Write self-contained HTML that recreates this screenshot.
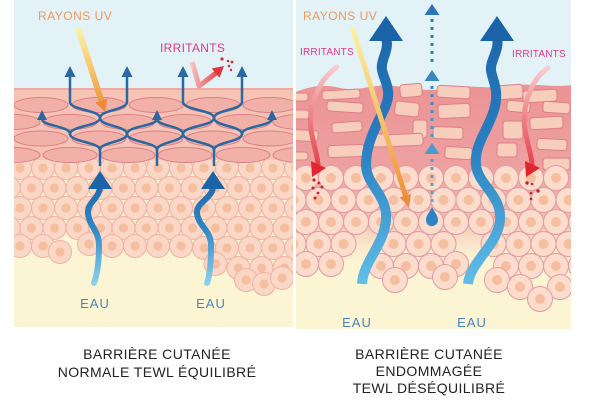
<!DOCTYPE html>
<html><head><meta charset="utf-8"><style>
html,body{margin:0;padding:0;background:#fff;}
svg{display:block;}
</style></head><body>
<svg width="600" height="400" viewBox="0 0 600 400" xmlns="http://www.w3.org/2000/svg" xmlns:xlink="http://www.w3.org/1999/xlink" font-family="'Liberation Sans', Arial, sans-serif">
<defs>
<clipPath id="cl"><rect x="14" y="0" width="279" height="327"/></clipPath>
<clipPath id="cr"><rect x="296" y="0" width="275" height="329"/></clipPath>
<g id="c1"><circle r="11.5" fill="#fad7c6" stroke="#efb2a3" stroke-width="1"/><circle r="4.6" fill="#f5be9e"/></g>
<g id="c2"><circle r="12.5" fill="#fcdccd" stroke="#e29c9f" stroke-width="1"/><circle r="5" fill="#f5bf9f"/></g>
<linearGradient id="gUVl" gradientUnits="userSpaceOnUse" x1="78" y1="28" x2="105" y2="112"><stop offset="0" stop-color="#faf3a6"/><stop offset="0.5" stop-color="#f6c46a"/><stop offset="1" stop-color="#ee8a35"/></linearGradient>
<linearGradient id="gUVr" gradientUnits="userSpaceOnUse" x1="352" y1="27" x2="409" y2="207"><stop offset="0" stop-color="#faf3a6"/><stop offset="0.5" stop-color="#f6c46a"/><stop offset="1" stop-color="#ee8a35"/></linearGradient>
<linearGradient id="gIrrL" gradientUnits="userSpaceOnUse" x1="192" y1="62" x2="224" y2="66"><stop offset="0" stop-color="#f6c3c3"/><stop offset="1" stop-color="#e2343c"/></linearGradient>
<linearGradient id="gIrr1" gradientUnits="userSpaceOnUse" x1="337" y1="67" x2="314" y2="176"><stop offset="0" stop-color="#f8cfcf"/><stop offset="1" stop-color="#e3303a"/></linearGradient>
<linearGradient id="gIrr2" gradientUnits="userSpaceOnUse" x1="548" y1="68" x2="528" y2="177"><stop offset="0" stop-color="#f8cfcf"/><stop offset="1" stop-color="#e3303a"/></linearGradient>
<linearGradient id="gBL" gradientUnits="userSpaceOnUse" x1="0" y1="172" x2="0" y2="285"><stop offset="0" stop-color="#1b64a8"/><stop offset="0.5" stop-color="#2f86c4"/><stop offset="1" stop-color="#8fd3ee"/></linearGradient>
<linearGradient id="gBR" gradientUnits="userSpaceOnUse" x1="0" y1="16" x2="0" y2="284"><stop offset="0" stop-color="#1a63a8"/><stop offset="0.5" stop-color="#2a80c2"/><stop offset="1" stop-color="#62bee6"/></linearGradient>
<linearGradient id="gDot" gradientUnits="userSpaceOnUse" x1="0" y1="4" x2="0" y2="228"><stop offset="0" stop-color="#2a72b6"/><stop offset="1" stop-color="#58b3dd"/></linearGradient>
<linearGradient id="gPink" gradientUnits="userSpaceOnUse" x1="0" y1="85" x2="0" y2="270"><stop offset="0" stop-color="#eb9395"/><stop offset="0.45" stop-color="#eea1a1"/><stop offset="0.75" stop-color="#f5c2b8"/><stop offset="1" stop-color="#fcf2d6" stop-opacity="0"/></linearGradient>
</defs>

<!-- ============ LEFT PANEL ============ -->
<g clip-path="url(#cl)">
<rect x="14" y="0" width="279" height="327" fill="#fcf5d3"/>
<rect x="14" y="0" width="279" height="92" fill="#e3f2f6"/>
<g>
<use href="#c1" x="20" y="168"/><use href="#c1" x="43" y="168"/><use href="#c1" x="66" y="168"/><use href="#c1" x="89" y="168"/><use href="#c1" x="112" y="168"/><use href="#c1" x="135" y="168"/><use href="#c1" x="158" y="168"/><use href="#c1" x="181" y="168"/><use href="#c1" x="204" y="168"/><use href="#c1" x="227" y="168"/><use href="#c1" x="250" y="168"/><use href="#c1" x="273" y="168"/><use href="#c1" x="296" y="168"/>
<use href="#c1" x="9" y="188"/><use href="#c1" x="31.5" y="188"/><use href="#c1" x="54.5" y="188"/><use href="#c1" x="77.5" y="188"/><use href="#c1" x="100.5" y="188"/><use href="#c1" x="123.5" y="188"/><use href="#c1" x="146.5" y="188"/><use href="#c1" x="169.5" y="188"/><use href="#c1" x="192.5" y="188"/><use href="#c1" x="215.5" y="188"/><use href="#c1" x="238.5" y="188"/><use href="#c1" x="261.5" y="188"/><use href="#c1" x="284.5" y="188"/>
<use href="#c1" x="20" y="208"/><use href="#c1" x="43" y="208"/><use href="#c1" x="66" y="208"/><use href="#c1" x="89" y="208"/><use href="#c1" x="112" y="208"/><use href="#c1" x="135" y="208"/><use href="#c1" x="158" y="208"/><use href="#c1" x="181" y="208"/><use href="#c1" x="204" y="208"/><use href="#c1" x="227" y="208"/><use href="#c1" x="250" y="208"/><use href="#c1" x="273" y="208"/><use href="#c1" x="296" y="208"/>
<use href="#c1" x="9" y="228"/><use href="#c1" x="31.5" y="228"/><use href="#c1" x="54.5" y="228"/><use href="#c1" x="77.5" y="228"/><use href="#c1" x="100.5" y="228"/><use href="#c1" x="123.5" y="228"/><use href="#c1" x="146.5" y="228"/><use href="#c1" x="169.5" y="228"/><use href="#c1" x="192.5" y="228"/><use href="#c1" x="215.5" y="228"/><use href="#c1" x="238.5" y="228"/><use href="#c1" x="261.5" y="228"/><use href="#c1" x="284.5" y="228"/>
<use href="#c1" x="20" y="246"/><use href="#c1" x="43" y="246"/><use href="#c1" x="60" y="252"/><use href="#c1" x="89" y="244"/><use href="#c1" x="112" y="246"/><use href="#c1" x="135" y="246"/><use href="#c1" x="158" y="246"/><use href="#c1" x="181" y="246"/><use href="#c1" x="204" y="248"/><use href="#c1" x="227" y="248"/><use href="#c1" x="250" y="248"/><use href="#c1" x="273" y="248"/><use href="#c1" x="296" y="248"/>
<use href="#c1" x="215.5" y="264"/><use href="#c1" x="238.5" y="268"/><use href="#c1" x="261.5" y="268"/><use href="#c1" x="284.5" y="268"/>
<use href="#c1" x="246" y="280"/><use href="#c1" x="264" y="284"/><use href="#c1" x="282" y="278"/>
</g>
<rect x="14" y="88" width="279" height="72" fill="#f6c4b4"/>
<rect x="14" y="88" width="279" height="2" fill="#f0a89f"/>
<g fill="#f2b1a8" stroke="#de7e89" stroke-width="1">
<ellipse cx="41" cy="105" rx="27" ry="7.5"/><ellipse cx="99" cy="105" rx="27" ry="7.5"/><ellipse cx="156" cy="105" rx="27" ry="7.5"/><ellipse cx="213" cy="105" rx="27" ry="7.5"/><ellipse cx="270" cy="105" rx="27" ry="7.5"/>
<ellipse cx="13" cy="122" rx="27" ry="7.5"/><ellipse cx="70" cy="122" rx="27" ry="7.5"/><ellipse cx="128" cy="122" rx="27" ry="7.5"/><ellipse cx="185" cy="122" rx="27" ry="7.5"/><ellipse cx="243" cy="122" rx="27" ry="7.5"/><ellipse cx="300" cy="122" rx="27" ry="7.5"/>
<ellipse cx="41" cy="138.5" rx="27" ry="7.5"/><ellipse cx="99" cy="138.5" rx="27" ry="7.5"/><ellipse cx="156" cy="138.5" rx="27" ry="7.5"/><ellipse cx="213" cy="138.5" rx="27" ry="7.5"/><ellipse cx="270" cy="138.5" rx="27" ry="7.5"/>
<ellipse cx="13" cy="155" rx="27" ry="7.5"/><ellipse cx="70" cy="155" rx="27" ry="7.5"/><ellipse cx="128" cy="155" rx="27" ry="7.5"/><ellipse cx="185" cy="155" rx="27" ry="7.5"/><ellipse cx="243" cy="155" rx="27" ry="7.5"/><ellipse cx="300" cy="155" rx="27" ry="7.5"/>
</g>
<g fill="none" stroke="#2a68a2" stroke-width="2.5" stroke-linecap="round">
<path d="M100,165V150 M157,165V150 M214,165V150"/>
<path d="M100,150C100,142 70,142 70,134 M100,150C100,142 127,142 127,134 M157,150C157,142 127,142 127,134 M157,150C157,142 183,142 183,134 M214,150C214,142 183,142 183,134 M214,150C214,142 242,142 242,134"/>
<path d="M70,134C70,126 42,126 42,119 M70,134C70,126 100,126 100,118 M127,134C127,126 100,126 100,118 M127,134C127,126 157,126 157,119 M183,134C183,126 157,126 157,119 M183,134C183,126 214,126 214,118 M242,134C242,126 214,126 214,118 M242,134C242,126 272,126 272,119"/>
<path d="M100,118C100,110 70,110 70,102V76 M100,118C100,110 127,110 127,102V76 M214,118C214,110 183,110 183,102V76 M214,118C214,110 242,110 242,102V76"/>
</g>
<g fill="#2a68a2">
<path d="M70,66L64.5,77H75.5Z M127,66L121.5,77H132.5Z M183,66L177.5,77H188.5Z M242,66L236.5,77H247.5Z"/>
<path d="M42,110L37,120H47Z M157,110L152,120H162Z M272,110L267,120H277Z"/>
</g>
<g fill="none" stroke="url(#gBL)" stroke-width="6" stroke-linecap="round">
<path d="M100,186C100,198 88,202 88,212C88,225 99,230 99,245C99,262 97,275 94,283"/>
<path d="M213,186C213,198 197,202 197,212C197,225 211,230 211,245C211,262 210,275 207,283"/>
</g>
<path d="M100,171L88,189H112Z" fill="#1b64a8"/>
<path d="M213,171L201,189H225Z" fill="#1b64a8"/>
<line x1="78" y1="28" x2="101.3" y2="100.6" stroke="url(#gUVl)" stroke-width="6"/>
<path d="M105,112L107.2,98.7L95.4,102.5Z" fill="#ee8a35"/>
<path d="M192,62L199,86L216,73" fill="none" stroke="url(#gIrrL)" stroke-width="5" stroke-linejoin="round"/>
<path d="M224,66L219.5,77.7L211.7,68.5Z" fill="#e2343c"/>
<g fill="#d42a3a"><circle cx="222" cy="59" r="1.6"/><circle cx="228" cy="61" r="1.3"/><circle cx="232" cy="62" r="1.4"/><circle cx="229" cy="66" r="1.3"/><circle cx="231" cy="70" r="1.2"/></g>
<text x="38" y="20" font-size="12" letter-spacing="0.5" fill="#eb9a60">RAYONS UV</text>
<text x="160" y="52" font-size="12" letter-spacing="0.3" fill="#e0388c">IRRITANTS</text>
<text x="95" y="308" font-size="13" letter-spacing="1" text-anchor="middle" fill="#4d82c0">EAU</text>
<text x="211" y="308" font-size="13" letter-spacing="1" text-anchor="middle" fill="#4d82c0">EAU</text>
</g>

<!-- ============ RIGHT PANEL ============ -->
<g clip-path="url(#cr)">
<rect x="296" y="0" width="275" height="329" fill="#fcf5d3"/>
<rect x="296" y="0" width="275" height="100" fill="#e3f2f6"/>
<path d="M296,92C310,86 325,84 340,88C360,92 375,83 395,86C415,89 430,92 450,88C470,84 490,90 510,86C530,82 550,88 572,85L572,270L296,270Z" fill="url(#gPink)"/>
<g fill="#f7cdbb" stroke="#df7f88" stroke-width="1">
<rect x="290" y="93" width="18" height="8" rx="3"/>
<rect x="322" y="90" width="38" height="9" rx="3" transform="rotate(-3 341 94)"/>
<rect x="327" y="102" width="36" height="10" rx="3" transform="rotate(4 345 107)"/>
<rect x="290" y="110" width="19" height="9" rx="3"/>
<rect x="332" y="122" width="30" height="10" rx="3" transform="rotate(-4 347 127)"/>
<rect x="290" y="130" width="28" height="11" rx="3" transform="rotate(3 304 135)"/>
<rect x="290" y="152" width="18" height="8" rx="3"/>
<rect x="328" y="145" width="36" height="12" rx="3" transform="rotate(-2 346 151)"/>
<rect x="372" y="134" width="16" height="13" rx="3"/>
<rect x="400" y="84" width="22" height="13" rx="3" transform="rotate(-5 411 90)"/>
<rect x="437" y="86" width="33" height="12" rx="3" transform="rotate(3 453 92)"/>
<rect x="395" y="102" width="24" height="14" rx="3" transform="rotate(6 407 109)"/>
<rect x="438" y="104" width="32" height="14" rx="3" transform="rotate(-3 454 111)"/>
<rect x="413" y="120" width="14" height="18" rx="3"/>
<rect x="433" y="127" width="30" height="12" rx="3" transform="rotate(2 448 133)"/>
<rect x="387" y="134" width="36" height="12" rx="3" transform="rotate(-3 405 140)"/>
<rect x="445" y="147" width="27" height="12" rx="3" transform="rotate(3 458 153)"/>
<rect x="497" y="85" width="26" height="14" rx="3" transform="rotate(-4 510 92)"/>
<rect x="507" y="101" width="23" height="11" rx="3" transform="rotate(5 518 106)"/>
<rect x="523" y="90" width="34" height="12" rx="3" transform="rotate(-3 540 96)"/>
<rect x="543" y="102" width="27" height="11" rx="3" transform="rotate(4 556 107)"/>
<rect x="503" y="121" width="20" height="18" rx="3"/>
<rect x="530" y="117" width="33" height="12" rx="3" transform="rotate(-3 546 123)"/>
<rect x="497" y="143" width="20" height="14" rx="3"/>
<rect x="537" y="139" width="30" height="11" rx="3" transform="rotate(3 552 144)"/>
<rect x="543" y="158" width="27" height="12" rx="3"/>
</g>
<g>
<use href="#c2" x="306" y="178"/><use href="#c2" x="331" y="178"/><use href="#c2" x="356" y="178"/><use href="#c2" x="381" y="178"/><use href="#c2" x="406" y="178"/><use href="#c2" x="431" y="178"/><use href="#c2" x="456" y="178"/><use href="#c2" x="481" y="178"/><use href="#c2" x="506" y="178"/><use href="#c2" x="531" y="178"/><use href="#c2" x="556" y="178"/>
<use href="#c2" x="293.5" y="200"/><use href="#c2" x="318.5" y="200"/><use href="#c2" x="343.5" y="200"/><use href="#c2" x="368.5" y="200"/><use href="#c2" x="393.5" y="200"/><use href="#c2" x="418.5" y="200"/><use href="#c2" x="443.5" y="200"/><use href="#c2" x="468.5" y="200"/><use href="#c2" x="493.5" y="200"/><use href="#c2" x="518.5" y="200"/><use href="#c2" x="543.5" y="200"/><use href="#c2" x="568.5" y="200"/>
<use href="#c2" x="306" y="222"/><use href="#c2" x="331" y="222"/><use href="#c2" x="356" y="222"/><use href="#c2" x="381" y="222"/><use href="#c2" x="406" y="222"/><use href="#c2" x="431" y="222"/><use href="#c2" x="456" y="222"/><use href="#c2" x="481" y="222"/><use href="#c2" x="506" y="222"/><use href="#c2" x="531" y="222"/><use href="#c2" x="556" y="222"/><use href="#c2" x="581" y="222"/>
<use href="#c2" x="293.5" y="244"/><use href="#c2" x="318.5" y="244"/><use href="#c2" x="343.5" y="244"/><use href="#c2" x="393.5" y="244"/><use href="#c2" x="418.5" y="244"/><use href="#c2" x="443.5" y="244"/><use href="#c2" x="493.5" y="244"/><use href="#c2" x="518.5" y="244"/><use href="#c2" x="543.5" y="244"/><use href="#c2" x="568.5" y="244"/>
<use href="#c2" x="306" y="264"/><use href="#c2" x="331" y="264"/><use href="#c2" x="381" y="266"/><use href="#c2" x="406" y="266"/><use href="#c2" x="431" y="266"/><use href="#c2" x="456" y="264"/><use href="#c2" x="506" y="266"/><use href="#c2" x="531" y="266"/><use href="#c2" x="556" y="266"/><use href="#c2" x="581" y="266"/>
<use href="#c2" x="395" y="280"/><use href="#c2" x="445" y="277"/><use href="#c2" x="497" y="280"/><use href="#c2" x="520" y="287"/><use href="#c2" x="560" y="287"/><use href="#c2" x="540" y="299"/>
</g>
<g fill="none" stroke-width="5" stroke-linecap="round">
<path d="M337,67C318,80 306,110 312,135C315,150 318,158 318,165" stroke="url(#gIrr1)"/>
<path d="M548,68C530,80 520,110 526,135C529,150 532,158 532,165" stroke="url(#gIrr2)"/>
</g>
<path d="M312,177L311,161L326,168Z" fill="#e0252f"/>
<path d="M526,177L525,161L540,168Z" fill="#e0252f"/>
<g fill="#c8202f"><circle cx="314" cy="180" r="1.6"/><circle cx="319" cy="183" r="1.4"/><circle cx="322" cy="187" r="1.5"/><circle cx="313" cy="188" r="1.5"/><circle cx="318" cy="193" r="1.4"/><circle cx="315" cy="198" r="1.5"/>
<circle cx="527" cy="183" r="1.7"/><circle cx="532" cy="184" r="1.3"/><circle cx="538" cy="191" r="1.7"/><circle cx="531" cy="193" r="1.3"/><circle cx="531" cy="199" r="1.4"/></g>
<g fill="url(#gDot)">
<path d="M432,4L424.5,15H439.5Z M432,70L424.5,81H439.5Z M432,143L424.5,154H439.5Z"/>
<rect x="430.5" y="19" width="3" height="3"/><rect x="430.5" y="27" width="3" height="3"/><rect x="430.5" y="35" width="3" height="3"/><rect x="430.5" y="43" width="3" height="3"/><rect x="430.5" y="51" width="3" height="3"/><rect x="430.5" y="59" width="3" height="3"/>
<rect x="430.5" y="86" width="3" height="3"/><rect x="430.5" y="94" width="3" height="3"/><rect x="430.5" y="102" width="3" height="3"/><rect x="430.5" y="110" width="3" height="3"/><rect x="430.5" y="118" width="3" height="3"/><rect x="430.5" y="126" width="3" height="3"/><rect x="430.5" y="134" width="3" height="3"/>
<rect x="430.5" y="159" width="3" height="3"/><rect x="430.5" y="167" width="3" height="3"/><rect x="430.5" y="175" width="3" height="3"/><rect x="430.5" y="183" width="3" height="3"/><rect x="430.5" y="191" width="3" height="3"/><rect x="430.5" y="199" width="3" height="3"/>
</g>
<path d="M432,207C434,212 438,215 438,220A6,6 0 1 1 426,220C426,215 430,212 432,207Z" fill="#2a84c6"/>
<g fill="none" stroke="url(#gBR)" stroke-width="10">
<path d="M386,38C390,50 380,60 382,70C384,80 392,90 386,105C380,120 366,140 366,165C366,185 388,195 386,220C384,245 363,262 362,284"/>
<path d="M497,38C500,50 490,60 491,70C492,80 500,90 494,110C488,130 474,145 476,165C478,185 502,195 500,220C498,245 470,262 468,284"/>
</g>
<path d="M386,16L369,41H403Z" fill="#1a63a8"/>
<path d="M497,16L480,41H514Z" fill="#1a63a8"/>
<line x1="352" y1="27" x2="405.4" y2="195.6" stroke="url(#gUVr)" stroke-width="5"/>
<path d="M409,207L411.1,193.8L399.7,197.4Z" fill="#ee8a35"/>
<text x="303" y="20" font-size="12" letter-spacing="0.5" fill="#eb9a60">RAYONS UV</text>
<text x="300" y="55" font-size="10" letter-spacing="0.2" fill="#e0388c">IRRITANTS</text>
<text x="512" y="57" font-size="10" letter-spacing="0.2" fill="#e0388c">IRRITANTS</text>
<text x="357" y="327" font-size="13" letter-spacing="1" text-anchor="middle" fill="#4d82c0">EAU</text>
<text x="472" y="327" font-size="13" letter-spacing="1" text-anchor="middle" fill="#4d82c0">EAU</text>
</g>

<g font-size="14" letter-spacing="0.4" fill="#222" text-anchor="middle">
<text x="157" y="359">BARRIÈRE CUTANÉE</text>
<text x="157" y="377">NORMALE TEWL ÉQUILIBRÉ</text>
<text x="429" y="359">BARRIÈRE CUTANÉE</text>
<text x="429" y="376">ENDOMMAGÉE</text>
<text x="429" y="393">TEWL DÉSÉQUILIBRÉ</text>
</g>
</svg>
</body></html>
